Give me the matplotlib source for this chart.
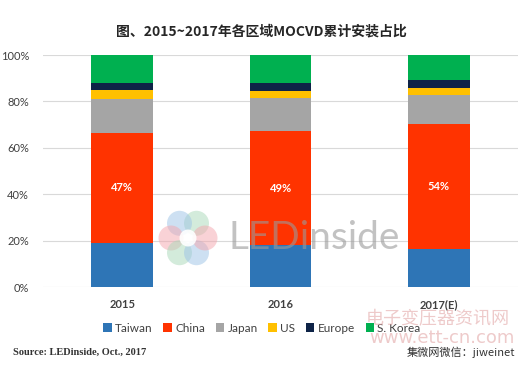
import matplotlib
matplotlib.use("Agg")
import matplotlib.pyplot as plt
from matplotlib.patches import Ellipse
import numpy as np

plt.rcParams['font.family'] = ['Lato', 'Noto Sans CJK SC', 'DejaVu Sans']

years = ["2015", "2016", "2017(E)"]
regions = ["Taiwan", "China", "Japan", "US", "Europe", "S. Korea"]
taiwan = [19.0, 18.0, 16.3]
china = [47.4, 49.3, 53.9]
japan = [14.7, 14.0, 12.5]
us = [3.9, 3.3, 3.2]
europe = [2.8, 3.2, 3.3]
skorea = [12.2, 12.2, 10.8]
china_labels = ["47%", "49%", "54%"]
colors = ["#2E75B6", "#FF3300", "#A5A5A5", "#FFC000", "#0E2347", "#00B050"]

series = [taiwan, china, japan, us, europe, skorea]

fig = plt.figure(figsize=(5.3, 3.65), dpi=100)
ax = fig.add_axes([43/530, 78/365, 475/530, 232/365])

x = np.arange(len(years))
bottom = np.zeros(len(years))
for name, vals, c in zip(regions, series, colors):
    ax.bar(x, vals, width=0.39, bottom=bottom, color=c, label=name, zorder=3)
    bottom += np.array(vals)

for xi, t, ch, lab in zip(x, taiwan, china, china_labels):
    ax.text(xi, t + ch / 2, lab, ha='center', va='center', color='white',
            fontsize=8, fontweight='bold', zorder=5)

ax.set_xlim(-0.5, 2.5)
ax.set_ylim(0, 100)
ax.set_yticks([0, 20, 40, 60, 80, 100])
ax.set_yticklabels([f"{v}%" for v in [0, 20, 40, 60, 80, 100]])
ax.set_xticks(x)
ax.set_xticklabels(years, fontweight='bold')
ax.tick_params(axis='both', length=0, labelsize=8, colors='#404040')
ax.tick_params(axis='y', pad=10)
ax.tick_params(axis='x', pad=9)
ax.grid(axis='y', color='#D9D9D9', linewidth=0.8, zorder=0)
for s in ax.spines.values():
    s.set_visible(False)

# watermark logo (LEDinside)
petal_cols = ["#A9D8B8", "#9CC3E6", "#F4A6AE", "#A9D8B8", "#9CC3E6", "#F4A6AE"]
cx, cy = 188, 365 - 238
for i, pc in enumerate(petal_cols):
    ang = np.deg2rad(60 + i * 60)
    px = cx + 17 * np.cos(ang)
    py = cy + 17 * np.sin(ang)
    e = Ellipse((px / 530, py / 365), 25 / 530, 25 / 365,
                color=pc, alpha=0.5, transform=fig.transFigure, zorder=10, lw=0)
    fig.add_artist(e)
inner = Ellipse((cx / 530, cy / 365), 17 / 530, 17 / 365, color='white', alpha=0.9,
                transform=fig.transFigure, zorder=10.5, lw=0)
fig.add_artist(inner)
fig.text(228/530, 1 - 238/365, "LEDinside", fontsize=28, color='#9A9A9A', alpha=0.6,
         ha='left', va='center', zorder=11)

fig.text(261/530, 1 - 31/365, "图、2015~2017年各区域MOCVD累计安装占比",
         ha='center', va='center', fontsize=10, fontweight='bold', color='#262626',
         family=['Noto Sans CJK SC', 'DejaVu Sans'])

leg = fig.legend(loc='center', bbox_to_anchor=(262/530, 1 - 328/365), ncol=6,
                 frameon=False, fontsize=8.5, handlelength=0.7, handleheight=0.7,
                 handletextpad=0.3, columnspacing=0.9)
for t in leg.get_texts():
    t.set_color('#404040')

fig.text(13/530, 1 - 352/365, "Source: LEDinside, Oct., 2017", ha='left', va='center',
         fontsize=7.5, fontweight='bold', color='#333333', family=['Liberation Serif'])
fig.text(515/530, 1 - 352/365, "集微网微信：jiweinet", ha='right', va='center',
         fontsize=8, color='#333333', family=['Noto Sans CJK SC', 'DejaVu Sans'])

# site watermark
fig.text(438/530, 1 - 319/365, "电子变压器资讯网", ha='center', va='center', fontsize=13,
         color='#E0A0A0', alpha=0.55, family=['Noto Sans CJK SC', 'DejaVu Sans'], zorder=12)
fig.text(442/530, 1 - 338/365, "www.ett-cn.com", ha='center', va='center', fontsize=13,
         color='#E0A0A0', alpha=0.55, family=['DejaVu Sans'], zorder=12)

fig.savefig("out.png", dpi=100)
